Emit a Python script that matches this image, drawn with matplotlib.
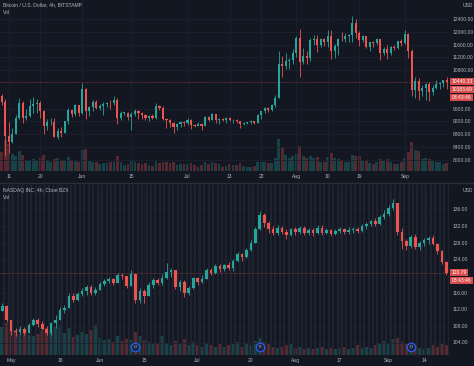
import numpy as np
import matplotlib.pyplot as plt
from matplotlib import transforms
from matplotlib.lines import Line2D

plt.rcParams['font.family'] = ['Liberation Sans', 'DejaVu Sans']

# colours of the dark trading theme
BG = "#131722"
GRID = "#1c2030"
TEXT = "#b2b5be"
UP = "#26a69a"
DOWN = "#ef5350"
FS = 3.6

# ---- Bitcoin / USD, daily candles from May 9 to Sep 13 ----
btc_close = [9810, 8730, 8570, 8820, 9310, 9790, 9320, 9380, 9680, 9730, 9770, 9520, 9070, 9170, 9180, 8720, 8900, 8840, 9200, 9570, 9420, 9700, 9450,
             10200, 9520, 9660, 9800, 9620, 9670, 9750, 9780, 9770, 9870, 9320, 9470, 9470, 9340, 9430, 9520, 9460, 9390, 9300, 9360, 9300, 9680, 9630, 9290, 9250, 9160, 9010, 9120, 9190, 9140,
             9230, 9090, 9060, 9130, 9070, 9340, 9250, 9430, 9230, 9290, 9240, 9300, 9240, 9250, 9200, 9130, 9150, 9170, 9210, 9160, 9390, 9530, 9610, 9550, 9700, 9930, 11000, 10920, 11100, 11110, 11340,
             11800, 11070, 11230, 11190, 11740, 11770, 11600, 11760, 11680, 11880, 11400, 11570, 11780, 11770, 11860, 11910, 12290, 11960, 11750, 11860, 11520, 11680, 11650, 11760, 11330, 11460, 11330, 11540, 11480, 11710, 11660,
             11920, 11400, 10170, 10460, 10160, 10250, 10370, 10130, 10240, 10360, 10400, 10480, 10440]
btc_high = [10070, 9900, 9170, 8980, 9400, 9930, 9840, 9580, 9890, 9950, 9900, 9830, 9560, 9270, 9310, 9300, 8980, 9010, 9220, 9620, 9600, 9730, 9700,
            10390, 10230, 9690, 9870, 9860, 9730, 9800, 9800, 9870, 9980, 9940, 9540, 9500, 9490, 9500, 9580, 9550, 9480, 9440, 9400, 9420, 9770, 9700, 9670, 9320, 9280, 9190, 9160, 9220, 9200,
            9300, 9260, 9130, 9180, 9140, 9360, 9370, 9460, 9440, 9300, 9300, 9340, 9340, 9280, 9270, 9210, 9190, 9190, 9240, 9220, 9420, 9540, 9640, 9650, 9730, 10040, 11400, 11250, 11330, 11170, 11450,
            11860, 12100, 11480, 11410, 11800, 11900, 11900, 11800, 11800, 12060, 12070, 11630, 11800, 12000, 11970, 11930, 12480, 12400, 12010, 11890, 11880, 11690, 11700, 11820, 11760, 11530, 11590, 11560, 11580, 11720, 11790,
            12050, 11950, 11460, 10600, 10560, 10350, 10400, 10430, 10350, 10500, 10420, 10500, 10580]
btc_low = [9710, 8110, 8200, 8540, 8800, 9260, 9140, 9230, 9330, 9470, 9470, 9300, 8810, 8940, 9090, 8700, 8640, 8700, 8830, 9120, 9340, 9360, 9380,
           9420, 9280, 9380, 9530, 9580, 9570, 9410, 9640, 9590, 9700, 9120, 9240, 9390, 9240, 8930, 9370, 9260, 9280, 9230, 9200, 9280, 9290, 9570, 9230, 9000, 9040, 8830, 8940, 9020, 9070,
           9100, 8950, 9040, 9050, 8920, 9060, 9220, 9240, 9150, 9120, 9200, 9160, 9200, 9140, 9160, 9000, 9090, 9120, 9110, 9130, 9150, 9290, 9470, 9480, 9540, 9660, 9920, 10580, 10840, 10850, 10990,
           11220, 10600, 10990, 11000, 11100, 11580, 11360, 11530, 11550, 11540, 11150, 11170, 11290, 11700, 11680, 11690, 11680, 11820, 11560, 11670, 11500, 11390, 11520, 11600, 11130, 11270, 11140, 11290, 11440, 11460, 11560,
           11620, 11180, 10000, 9940, 9880, 10000, 9880, 9850, 10020, 10200, 10220, 10290, 10210]
btc_volume = [2.2, 3.6, 3.2, 2.0, 1.8, 2.3, 1.9, 1.2, 1.3, 1.4, 1.3, 1.5, 1.9, 1.3, 1.0, 1.4, 1.5, 1.2, 1.3, 1.6, 1.3, 1.2, 1.1,
              2.4, 2.6, 1.2, 1.1, 1.0, 0.8, 0.9, 0.9, 1.0, 1.1, 1.7, 1.1, 0.7, 0.8, 1.3, 1.0, 0.9, 0.8, 0.9, 0.7, 0.6, 1.2, 0.9, 1.1, 1.0, 0.9, 1.0, 0.7, 0.8, 0.8,
              0.8, 0.9, 0.7, 0.5, 0.7, 1.0, 0.8, 1.0, 0.9, 0.8, 0.5, 0.6, 0.8, 0.7, 0.7, 0.9, 0.6, 0.5, 0.5, 0.6, 1.1, 1.0, 1.0, 0.9, 0.9, 1.5, 3.8, 2.8, 1.9, 1.5, 1.7,
              2.0, 2.9, 1.7, 1.5, 1.8, 1.5, 1.6, 1.1, 1.1, 1.6, 2.1, 1.5, 1.4, 1.3, 1.0, 1.0, 1.9, 1.8, 1.7, 1.2, 1.3, 0.9, 0.8, 1.0, 1.4, 1.2, 1.4, 1.1, 0.8, 0.8, 1.0,
              1.5, 2.2, 3.4, 2.4, 2.3, 1.4, 1.5, 1.4, 1.2, 1.1, 1.0, 0.8, 0.9]
btc_first_open = 9990
# day index (0 = May 9) of each date label
btc_tick_pos = [2, 11, 23, 37, 53, 65, 74, 84, 93, 102, 115]
btc_tick_labels = ["11", "20", "Jun", "15", "Jul", "13", "22", "Aug", "10", "19", "Sep"]
# 10000 and 10400 sit under the red last-price label
btc_price_ticks = [8000, 8400, 8800, 9200, 9600, 10800, 11200, 11600, 12000, 12400]

# ---- NASDAQ Inc, daily candles from Apr 29 to Sep 21 (trading days) ----
ndaq_close = [112.8, 109.5, 106.8, 106.5, 107.2, 106.3, 108.2, 109.4, 108.5, 107.2,
              106.4, 108.6, 109.5, 111.8, 112.4, 115.2, 114.3, 115.6, 116.3, 117.3,
              115.9, 116.7, 118.1, 118.8, 119.2, 118.4, 120.3, 119.9, 117.6, 120.5,
              114.2, 116.4, 115.1, 117.8, 118.9, 118.3, 119.6, 120.9, 121.3, 117.4,
              118.6, 115.8, 117.2, 119.4, 118.6, 119.3, 121.4, 120.6, 122.3, 121.6,
              122.5, 121.8, 123.6, 125.2, 124.5, 126.3, 127.9, 131.2, 134.6, 132.7,
              131.3, 130.4, 131.5, 130.6, 129.8, 131.3, 130.5, 131.4, 130.2, 131.0,
              130.3, 131.6, 130.4, 131.1, 130.1, 130.8, 131.2, 130.6, 130.9, 131.3,
              130.8, 131.9, 132.4, 133.1, 132.5, 134.2, 134.8, 136.4, 137.5, 130.6,
              128.4, 127.2, 129.4, 127.0, 127.8, 128.5, 129.1, 127.7, 126.0, 123.3,
              120.79]
ndaq_high = [113.5, 113.0, 109.5, 107.5, 108.0, 107.8, 108.8, 110.0, 109.8, 109.2,
             108.0, 109.0, 110.5, 112.5, 113.0, 116.0, 115.8, 116.2, 117.2, 117.8,
             117.9, 117.3, 118.6, 119.3, 119.8, 119.6, 120.8, 120.6, 120.0, 121.5,
             120.8, 117.2, 116.8, 118.6, 119.4, 119.6, 120.4, 123.0, 121.8, 121.4,
             119.0, 118.9, 117.6, 119.8, 119.7, 120.2, 121.9, 121.8, 122.8, 122.9,
             122.9, 123.4, 124.0, 125.8, 125.5, 126.8, 128.6, 131.8, 135.5, 135.2,
             133.1, 132.0, 132.2, 132.0, 131.2, 131.6, 131.8, 132.0, 131.9, 131.5,
             131.4, 132.1, 132.2, 131.6, 131.3, 131.3, 131.8, 131.6, 131.7, 131.8,
             131.7, 132.4, 132.9, 133.5, 133.8, 134.6, 135.7, 137.0, 138.4, 137.4,
             131.6, 128.8, 129.9, 130.1, 128.4, 129.1, 129.6, 129.8, 128.0, 126.3,
             123.6]
ndaq_low = [111.5, 109.0, 105.8, 105.5, 106.0, 105.8, 106.5, 108.0, 107.8, 107.0,
            105.7, 105.8, 107.5, 109.8, 111.0, 112.5, 113.8, 114.0, 115.2, 115.4,
            115.3, 115.3, 116.5, 117.6, 118.2, 117.8, 118.6, 119.2, 117.2, 117.8,
            113.6, 113.4, 113.6, 115.8, 117.2, 117.8, 117.9, 119.3, 119.8, 116.9,
            116.4, 114.9, 115.4, 116.9, 117.9, 118.4, 119.5, 120.1, 120.4, 121.0,
            121.2, 121.4, 121.2, 123.4, 123.6, 124.3, 126.0, 127.8, 130.9, 131.8,
            130.2, 129.8, 129.7, 130.0, 128.9, 129.5, 129.8, 130.1, 129.7, 129.8,
            129.6, 130.0, 129.9, 130.1, 129.5, 129.8, 130.3, 130.1, 130.0, 130.2,
            130.4, 130.6, 131.3, 131.9, 132.0, 132.3, 133.6, 134.4, 135.9, 129.8,
            126.4, 126.1, 126.8, 126.4, 126.3, 127.2, 127.6, 127.3, 125.3, 122.9,
            120.2]
ndaq_volume = [2.6, 3.0, 3.2, 2.4, 2.0, 2.2, 1.9, 1.8, 2.0, 2.3,
               2.5, 2.2, 2.6, 2.8, 2.1, 2.5, 1.7, 1.9, 2.2, 2.0,
               2.4, 2.8, 1.6, 1.4, 1.5, 1.2, 1.8, 1.3, 1.5, 1.4,
               2.2, 1.8, 1.4, 1.2, 1.0, 1.1, 1.8, 1.1, 0.9, 1.3,
               1.0, 1.5, 0.9, 1.2, 0.9, 0.8, 1.1, 0.9, 0.8, 1.0,
               0.8, 0.9, 1.0, 1.2, 0.8, 1.1, 0.9, 1.3, 1.6, 1.2,
               1.0, 0.8, 0.7, 0.8, 0.9, 1.0, 0.7, 0.8, 0.6, 0.7,
               0.6, 0.7, 0.8, 0.6, 0.7, 0.6, 0.7, 0.8, 0.6, 0.7,
               0.9, 0.7, 0.8, 0.7, 0.9, 1.1, 1.3, 1.0, 1.5, 1.6,
               1.2, 1.0, 0.8, 0.9, 0.7, 0.6, 0.7, 0.9, 0.8, 1.0,
               0.9]
ndaq_first_open = 111.6
# trading-day index (0 = Apr 29) of each date label
ndaq_tick_pos = [2, 13, 22, 32, 44, 56, 66, 76, 87, 95]
ndaq_tick_labels = ["May", "18", "Jun", "15", "Jul", "20", "Aug", "17", "Sep", "14"]
# 120 sits under the red last-price label
ndaq_price_ticks = [104, 108, 112, 116, 124, 128, 132, 136]
# dividend / earnings events (trading-day index, letter)
ndaq_event_pos = [30, 58, 92]
ndaq_event_text = ["D", "E", "D"]


# Draws candles and volume into one pane
def draw_pane(ax, first_open, close, high, low, volume, vol_top, width):
    close = np.array(close, dtype=float)
    opens = np.concatenate([[first_open], close[:-1]])
    high = np.maximum(np.array(high, dtype=float), np.maximum(opens, close))
    low = np.minimum(np.array(low, dtype=float), np.minimum(opens, close))
    pos = np.arange(len(close))
    up = close >= opens
    colors = np.where(up, UP, DOWN)

    # volume sits behind the candles on its own hidden scale
    vax = ax.twinx()
    vax.bar(pos, volume, width=0.8, color=colors, alpha=0.3, linewidth=0)
    vax.set_ylim(0, vol_top)
    vax.set_yticks([])
    for s in vax.spines.values():
        s.set_visible(False)
    vax.patch.set_facecolor(BG)
    ax.set_zorder(vax.get_zorder() + 1)
    ax.patch.set_visible(False)
    # twinx moves the price scale to the left, put it back
    ax.yaxis.tick_right()

    ax.vlines(pos, low, high, colors=colors, linewidth=0.6, zorder=3)
    body = np.maximum(np.abs(close - opens), (high.max() - low.min()) * 0.002)
    ax.bar(pos, body, bottom=np.minimum(opens, close), width=width, color=colors, linewidth=0, zorder=4)
    return close[-1]


# Styles axis ticks, grid and the price scale on the right
def style_pane(ax, xticks, xlabels, yticks):
    ax.set_facecolor(BG)
    for s in ax.spines.values():
        s.set_visible(False)
    ax.set_yticks(yticks, [f"{v:.2f}" for v in yticks])
    ax.set_xticks(xticks, xlabels)
    ax.tick_params(length=0, labelsize=FS, labelcolor=TEXT, pad=2.5)
    ax.grid(True, color=GRID, linewidth=0.6)
    ax.set_axisbelow(True)


# Adds the red last-price labels stacked on the price scale
def price_labels(ax, price, texts):
    trans = transforms.blended_transform_factory(ax.transAxes, ax.transData)
    for i, t in enumerate(texts):
        tr = transforms.offset_copy(trans, fig=ax.figure, x=0, y=-8 * i, units="dots")
        ax.text(1.006, price, t, transform=tr, fontsize=FS, color="white", va="center", ha="left",
                clip_on=False, bbox=dict(facecolor=DOWN, edgecolor="none", pad=0.9, alpha=0.9))
    ax.axhline(price, color=DOWN, linewidth=0.6, linestyle=(0, (1, 1)), alpha=0.5)


fig = plt.figure(figsize=(4.74, 3.66), dpi=100, facecolor=BG)

# ---- top pane: Bitcoin ----
ax1 = fig.add_axes([0, 1 - 171 / 366, 449 / 474, 171 / 366])
style_pane(ax1, btc_tick_pos, btc_tick_labels, btc_price_ticks)
last = draw_pane(ax1, btc_first_open, btc_close, btc_high, btc_low, btc_volume, 20, 0.6)
ax1.set_xlim(-0.5, 127.6)
ax1.set_ylim(7650, 12994)
price_labels(ax1, last, ["10440.33", "10383.69", "03:43:46"])
ax1.text(0.006, 0.985, "Bitcoin / U.S. Dollar, 4h, BITSTAMP", transform=ax1.transAxes,
         fontsize=FS, color=TEXT, va="top", ha="left")
ax1.text(0.006, 0.94, "Vol", transform=ax1.transAxes, fontsize=FS, color=TEXT, va="top", ha="left")
ax1.text(1.03, 0.985, "USD", transform=ax1.transAxes, fontsize=FS, color=TEXT, va="top", ha="left")

# ---- bottom pane: NASDAQ ----
ax2 = fig.add_axes([0, 11 / 366, 449 / 474, 170 / 366])
style_pane(ax2, ndaq_tick_pos, ndaq_tick_labels, ndaq_price_ticks)
# session stripes between trading days
ax2.vlines(np.arange(len(ndaq_close)) + 0.5, 0, 1, transform=ax2.get_xaxis_transform(),
           colors="#232733", linewidth=1.1, zorder=0)
last2 = draw_pane(ax2, ndaq_first_open, ndaq_close, ndaq_high, ndaq_low, ndaq_volume, 16, 0.6)
ax2.set_xlim(-0.5, 100.6)
ax2.set_ylim(101.0, 141.8)
price_labels(ax2, last2, ["120.79", "03:43:46"])
ev_trans = ax2.get_xaxis_transform()
ax2.scatter(ndaq_event_pos, [0.05] * len(ndaq_event_pos), transform=ev_trans, s=38,
            facecolor="#1a2540", edgecolor="#2962ff", linewidth=0.8, zorder=6, clip_on=False)
for p, t in zip(ndaq_event_pos, ndaq_event_text):
    ax2.text(p, 0.05, t, transform=ev_trans, fontsize=3.2, color=TEXT, ha="center", va="center", zorder=7)
ax2.text(0.006, 0.985, "NASDAQ INC, 4h, Cboe BZX", transform=ax2.transAxes,
         fontsize=FS, color=TEXT, va="top", ha="left")
ax2.text(0.006, 0.94, "Vol", transform=ax2.transAxes, fontsize=FS, color=TEXT, va="top", ha="left")
ax2.text(1.03, 0.985, "USD", transform=ax2.transAxes, fontsize=FS, color=TEXT, va="top", ha="left")

# pane separator
fig.add_artist(Line2D([0, 1], [1 - 183 / 366] * 2, color="#2a2e39", linewidth=1.0))

fig.savefig("out.png", dpi=100, facecolor=BG)
